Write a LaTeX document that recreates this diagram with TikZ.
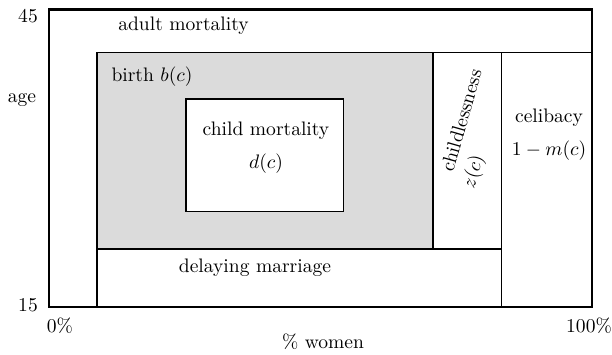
\documentclass[tikz,border=0pt]{standalone}
\begin{document}
\begin{tikzpicture}[x=0.5117pt,y=-0.5117pt,
  outer/.style={line width=1.3pt},
  inner/.style={line width=0.65pt},
  grayfill/.style={fill=black!14},
  lbl/.style={inner sep=0pt,font=\normalsize}]
\useasboundingbox (0,0) rectangle (612,354);
% shaded birth region
\fill[grayfill] (97,52.5) rectangle (433,249);
\draw[inner,fill=white] (186,99) rectangle (343.5,211.5);
% inner partition lines
\draw[inner] (97,307) -- (97,52.5) -- (592,52.5);
\draw[inner] (433,52.5) -- (433,249);
\draw[inner] (97,249) -- (501.5,249);
\draw[inner] (501.5,52.5) -- (501.5,307);
% outer frame
\draw[outer] (49,9.5) rectangle (592,307);
% axis labels
\node[lbl] (y45) at (28,16) {45};
\node[lbl] (age) at (22,100) {age};
\node[lbl] (y15) at (28,305) {15};
\node[lbl] (x0) at (60,326) {0\%};
\node[lbl] (x100) at (589,326) {100\%};
\node[lbl] (xw) at (323,342) {\% women};
% region labels
\node[lbl] (adult) at (183.5,26) {adult mortality};
\node[lbl] (birth) at (152,77) {birth $b(c)$};
\node[lbl,align=center] (child) at (266,148) {child mortality\\[5pt] $d(c)$};
\node[lbl] (delay) at (255,268) {delaying marriage};
\node[lbl,align=center] (celib) at (549,135) {celibacy\\[5pt] $1-m(c)$};
\node[lbl,rotate=74,anchor=base west] (childless) at (453,173) {childlessness};
\node[lbl,rotate=74] (zc) at (474,172) {$z(c)$};
\end{tikzpicture}
\end{document}
